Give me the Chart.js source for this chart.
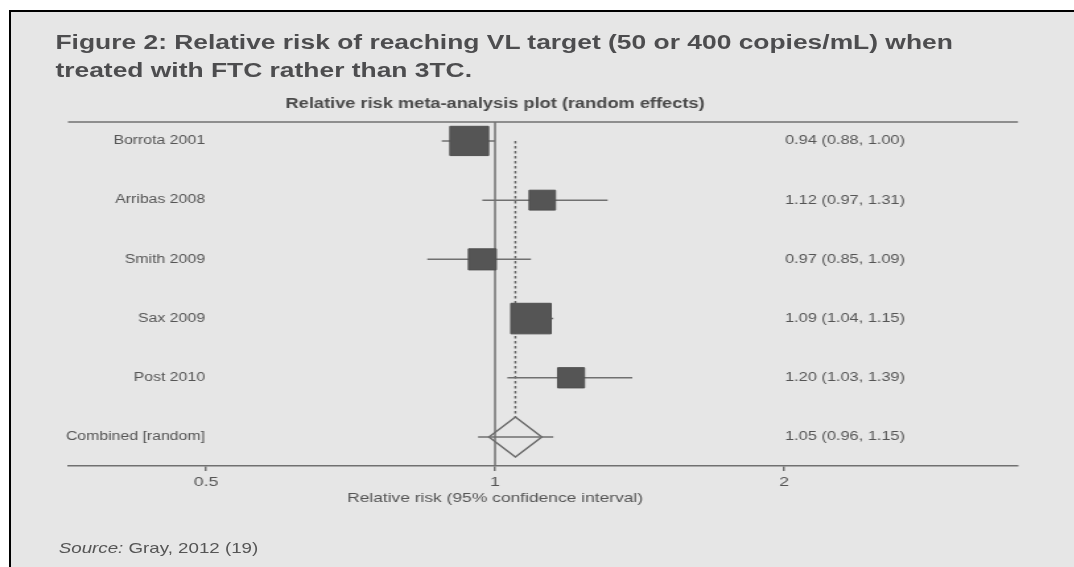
<!DOCTYPE html>
<html>
<head>
<meta charset="utf-8">
<script src="https://cdn.jsdelivr.net/npm/chart.js@4.4.1/dist/chart.umd.min.js"></script>
<style>
  html, body { margin: 0; padding: 0; background: #fff; width: 1074px; height: 567px; overflow: hidden; }
  #frame { position: absolute; left: 9px; top: 10px; width: 1065px; height: 557px; box-sizing: border-box;
           border-left: 2px solid #000; border-top: 2px solid #000; background: #e6e6e6; }
  #stage { position: absolute; left: 0; top: 0; width: 814px; height: 567px;
           transform: scaleX(1.32); transform-origin: 0 0;
           font-family: "Liberation Sans", Arial, sans-serif; color: #555; }
  #title { position: absolute; left: 42px; top: 28.4px; font-weight: bold; font-size: 20px;
           line-height: 28px; color: #4d4d4f; white-space: nowrap; }
  #source { position: absolute; left: 44.5px; top: 539.8px; font-size: 14.2px; line-height: 17px;
            color: #555; white-space: nowrap; }
  #plot { position: absolute; left: 0; top: 0; }
</style>
</head>
<body>
<div id="frame"></div>
<div id="stage">
  <div id="title">Figure 2: Relative risk of reaching VL target (50 or 400 copies/mL) when<br>treated with FTC rather than 3TC.</div>
  <canvas id="plot" width="814" height="567"></canvas>
  <div id="source"><i>Source:</i> Gray, 2012 (19)</div>
</div>
<script>
// Individual studies: relative risk with 95% confidence limits and random-effects weight (%)
const studies = ['Borrota 2001', 'Arribas 2008', 'Smith 2009', 'Sax 2009', 'Post 2010'];
const rr      = [0.94, 1.12, 0.97, 1.09, 1.20];
const lower   = [0.88, 0.97, 0.85, 1.04, 1.03];
const upper   = [1.00, 1.31, 1.09, 1.15, 1.39];
const weights = [28.2, 13.0, 14.6, 30.7, 13.5];

// Pooled (random effects) estimate
const pooledLabel = 'Combined [random]';
const pooledRR    = 1.05;
const pooledLower = 0.96;
const pooledUpper = 1.15;

// Axis
const xTicks   = [0.5, 1, 2];
const xTitle   = 'Relative risk (95% confidence interval)';
const subtitle = 'Relative risk meta-analysis plot (random effects)';

const rowLabels = studies.concat([pooledLabel]);
const rowRR     = rr.concat([pooledRR]);
const rowLower  = lower.concat([pooledLower]);
const rowUpper  = upper.concat([pooledUpper]);
const pooledRow = studies.length;

const Y_MIN = -0.32, Y_MAX = 5.49;
const TEXT = '#555';
const LINE = '#707070';
const FONT = '"Liberation Sans", Arial, sans-serif';

const fmt = v => v.toFixed(2);

// Confidence-interval whiskers, one segment per row separated by gaps
const ciData = [];
rowLower.forEach((lo, i) => {
  ciData.push({ x: lo, y: i }, { x: rowUpper[i], y: i }, { x: null, y: null });
});

const forestText = {
  id: 'forestText',
  beforeDatasetsDraw(chart) {
    const { ctx, chartArea } = chart;
    ctx.save();
    ctx.strokeStyle = LINE;
    ctx.lineWidth = 1.5;
    ctx.beginPath();
    ctx.moveTo(chartArea.left, chartArea.top);
    ctx.lineTo(chartArea.right, chartArea.top);
    ctx.stroke();
    ctx.restore();
  },
  afterDraw(chart) {
    const { ctx } = chart;
    const xs = chart.scales.x, ys = chart.scales.y;
    const xNull = xs.getPixelForValue(1);
    ctx.save();

    ctx.fillStyle = '#4a4a4a';
    ctx.font = 'bold 13.8px ' + FONT;
    ctx.textAlign = 'center';
    ctx.textBaseline = 'alphabetic';
    ctx.fillText(subtitle, xNull, 108);

    ctx.fillStyle = TEXT;
    ctx.font = '13.2px ' + FONT;
    ctx.fillText(xTitle, xNull, 502);

    ctx.textBaseline = 'middle';
    rowLabels.forEach((lab, i) => {
      const y = ys.getPixelForValue(i);
      ctx.font = '12px ' + FONT;
      ctx.textAlign = 'right';
      ctx.fillText(lab, 155.3, y);
      ctx.font = '12.4px ' + FONT;
      ctx.textAlign = 'left';
      ctx.fillText(fmt(rowRR[i]) + ' (' + fmt(rowLower[i]) + ', ' + fmt(rowUpper[i]) + ')', 594.7, y);
    });
    ctx.restore();
  }
};

new Chart(document.getElementById('plot'), {
  type: 'scatter',
  data: {
    datasets: [
      {
        label: 'Study estimate',
        data: rr.map((v, i) => ({ x: v, y: i })),
        pointStyle: 'rect',
        pointRadius: ctx => 3.9 * Math.sqrt(weights[ctx.dataIndex] || 0),
        backgroundColor: '#555',
        borderColor: '#505050',
        borderWidth: 1,
        order: 1
      },
      {
        label: '95% CI',
        data: ciData,
        showLine: true,
        spanGaps: false,
        pointRadius: 0,
        borderColor: LINE,
        borderWidth: 1.5,
        order: 2
      },
      {
        label: 'No effect',
        data: [{ x: 1, y: Y_MIN }, { x: 1, y: Y_MAX }],
        showLine: true,
        pointRadius: 0,
        borderColor: LINE,
        borderWidth: 1.5,
        order: 3
      },
      {
        label: 'Pooled estimate',
        data: [{ x: pooledRR, y: pooledRow }],
        pointStyle: 'rectRot',
        pointRadius: 20,
        backgroundColor: '#e6e6e6',
        borderColor: '#6a6a6a',
        borderWidth: 1.5,
        order: 4
      },
      {
        label: 'Pooled reference',
        data: [{ x: pooledRR, y: 0 }, { x: pooledRR, y: pooledRow }],
        showLine: true,
        pointRadius: 0,
        borderColor: '#666',
        borderWidth: 1.5,
        borderDash: [2.5, 2.5],
        order: 5
      }
    ]
  },
  options: {
    responsive: false,
    animation: false,
    events: [],
    layout: { padding: { left: 51.5, right: 42.8, top: 122, bottom: 61 } },
    plugins: { legend: { display: false }, tooltip: { enabled: false } },
    scales: {
      x: {
        type: 'logarithmic',
        min: 0.359,
        max: 3.506,
        afterBuildTicks: scale => { scale.ticks = xTicks.map(v => ({ value: v })); },
        afterFit: scale => { scale.height = 40; },
        ticks: {
          callback: v => String(v),
          color: TEXT,
          font: { family: FONT, size: 13.5 },
          padding: 3,
          maxRotation: 0,
          autoSkip: false
        },
        grid: { drawOnChartArea: false, drawTicks: true, tickLength: 5, color: LINE, lineWidth: 1.5 },
        border: { display: true, color: LINE, width: 1.5 }
      },
      y: {
        type: 'linear',
        display: false,
        reverse: true,
        min: Y_MIN,
        max: Y_MAX
      }
    }
  },
  plugins: [forestText]
});
</script>
</body>
</html>
